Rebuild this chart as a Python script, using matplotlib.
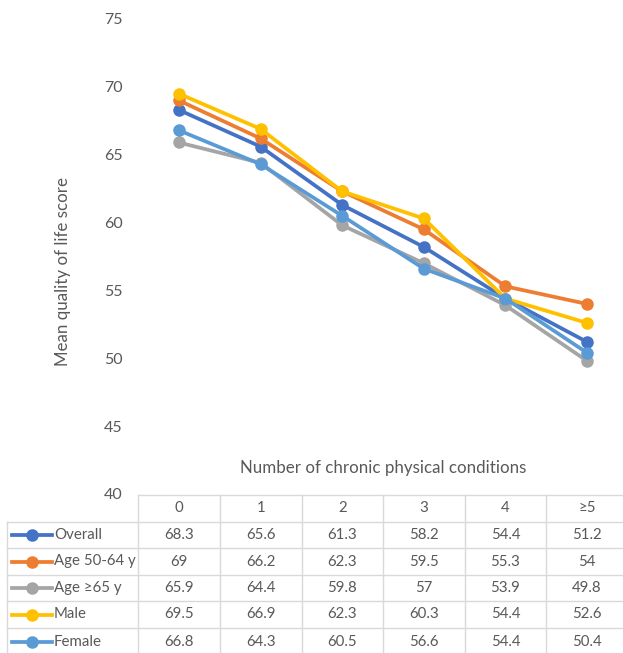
import numpy as np
import matplotlib
matplotlib.use('Agg')
import matplotlib.pyplot as plt

plt.rcParams['font.family'] = ['Lato', 'DejaVu Sans']

# 数据
categories = ['0', '1', '2', '3', '4', '≥5']
overall = [68.3, 65.6, 61.3, 58.2, 54.4, 51.2]
age_50_64 = [69, 66.2, 62.3, 59.5, 55.3, 54]
age_65 = [65.9, 64.4, 59.8, 57, 53.9, 49.8]
male = [69.5, 66.9, 62.3, 60.3, 54.4, 52.6]
female = [66.8, 64.3, 60.5, 56.6, 54.4, 50.4]

series_names = ['Overall', 'Age 50-64 y', 'Age ≥65 y', 'Male', 'Female']
series_values = [overall, age_50_64, age_65, male, female]
series_colors = ['#4472C4', '#ED7D31', '#A5A5A5', '#FFC000', '#5B9BD5']

TEXT = '#595959'
GRID = '#D9D9D9'
W, H = 623, 653

fig = plt.figure(figsize=(W / 100, H / 100), dpi=100)

# 主图区域（像素换算）
left, right, top, bottom = 138, 628, 19, 494
ax = fig.add_axes([left / W, 1 - bottom / H, (right - left) / W, (bottom - top) / H])
x = np.arange(len(categories))
for name, vals, c in zip(series_names, series_values, series_colors):
    ax.plot(x, vals, color=c, lw=2.7, marker='o', markersize=8, label=name)

ax.set_xlim(-0.5, len(categories) - 0.5)
ax.set_ylim(40, 75)
ax.set_yticks(np.arange(40, 76, 5))
ax.set_xticks([])
ax.tick_params(axis='y', length=0, pad=11, labelsize=11.5, labelcolor=TEXT)
for s in ax.spines.values():
    s.set_visible(False)
ax.patch.set_alpha(0)

fig.text(63 / W, 1 - 271 / H, 'Mean quality of life score', rotation=90,
         ha='center', va='center', fontsize=12.2, color=TEXT)
fig.text(383 / W, 1 - 468 / H, 'Number of chronic physical conditions',
         ha='center', va='center', fontsize=12.2, color=TEXT)

# 数据表（像素坐标）
tab = fig.add_axes([0, 0, 1, 1])
tab.set_xlim(0, W)
tab.set_ylim(H, 0)
tab.axis('off')
tab.patch.set_alpha(0)

col_edges = [138, 220, 302, 383, 465, 546, 628]
row_edges = [495, 521.5, 548, 575, 601, 628, 655]

tab.plot([col_edges[0], col_edges[-1]], [row_edges[0]] * 2, color=GRID, lw=1)
for ry in row_edges[1:]:
    tab.plot([7, col_edges[-1]], [ry, ry], color=GRID, lw=1)
tab.plot([7, 7], [row_edges[1], row_edges[-1]], color=GRID, lw=1)
for cx in col_edges:
    tab.plot([cx, cx], [row_edges[0], row_edges[-1]], color=GRID, lw=1)

centers = [(col_edges[i] + col_edges[i + 1]) / 2 for i in range(len(categories))]
hy = (row_edges[0] + row_edges[1]) / 2
for cx, cat in zip(centers, categories):
    tab.text(cx, hy, cat, ha='center', va='center', fontsize=10.8, color=TEXT)

for r, (name, vals, c) in enumerate(zip(series_names, series_values, series_colors)):
    ry = (row_edges[r + 1] + row_edges[r + 2]) / 2
    tab.plot([12, 52], [ry, ry], color=c, lw=2.7)
    tab.plot([32], [ry], 'o', color=c, markersize=8)
    tab.text(54, ry, name, ha='left', va='center', fontsize=10.8, color=TEXT)
    for cx, v in zip(centers, vals):
        tab.text(cx, ry, f'{v:g}', ha='center', va='center', fontsize=10.8, color=TEXT)

fig.savefig('out.png', dpi=100)
